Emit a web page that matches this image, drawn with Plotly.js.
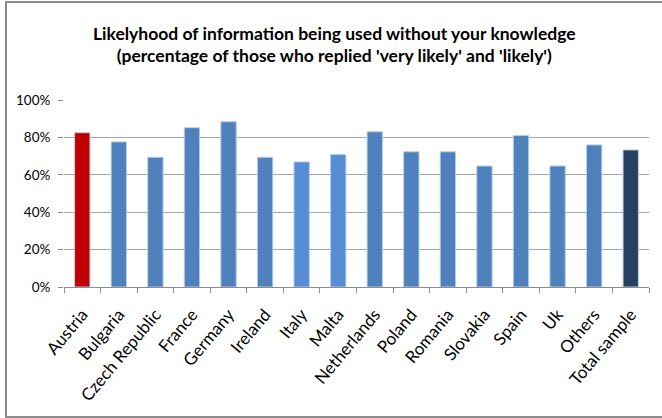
<!DOCTYPE html>
<html>
<head>
<meta charset="utf-8">
<script src="https://cdn.plot.ly/plotly-3.0.1.min.js"></script>
<style>
html,body{margin:0;padding:0;background:#fff;}
#wrap{position:relative;width:662px;height:418px;}
#chart{width:662px;height:418px;}
#frame{position:absolute;left:5px;top:1px;width:670px;height:413px;border:2px solid #8c8c8c;border-right:none;pointer-events:none;}
</style>
</head>
<body>
<div id="wrap"><div id="chart"></div><div id="frame"></div></div>
<script>
const categories = ["Austria","Bulgaria","Czech Republic","France","Germany","Ireland","Italy","Malta","Netherlands","Poland","Romania","Slovakia","Spain","Uk","Others","Total sample"];
const values = [0.825, 0.776, 0.694, 0.852, 0.884, 0.694, 0.669, 0.708, 0.830, 0.723, 0.723, 0.647, 0.810, 0.647, 0.760, 0.733];
const barColors = ["#C00000","#4F81BD","#4F81BD","#4F81BD","#4F81BD","#4F81BD","#558ED5","#558ED5","#4F81BD","#4F81BD","#4F81BD","#4F81BD","#4F81BD","#4F81BD","#4F81BD","#254061"];
const yTickVals = [0,0.2,0.4,0.6,0.8,1.0];
const yTickText = ["0%","20%","40%","60%","80%","100%"];
const titleText = "Likelyhood of information being used without your knowledge<br>(percentage of those who replied 'very likely' and 'likely')";

const font = "Lato, 'Liberation Sans', sans-serif";

Plotly.newPlot('chart', [{
  type: 'bar',
  x: categories,
  y: values,
  marker: {color: barColors, line: {color: '#B9CDE5', width: 1}},
  width: 0.42,
  hoverinfo: 'none'
}], {
  width: 662, height: 418,
  margin: {l: 64, r: 13, t: 100, b: 131},
  paper_bgcolor: '#fff', plot_bgcolor: '#fff',
  title: {text: titleText, font: {family: font, size: 17.5, color: '#000', weight: 'bold'}, x: 0.505, xanchor: 'center', y: 0.905, yanchor: 'top'},
  showlegend: false,
  xaxis: {
    type: 'category',
    tickangle: -50,
    tickfont: {family: font, size: 17, color: '#000'},
    ticks: 'outside', tickson: 'boundaries', ticklen: 5, tickcolor: '#8c8c8c',
    ticklabelstandoff: 10,
    showline: true, linecolor: '#8c8c8c', linewidth: 1,
    showgrid: false, fixedrange: true
  },
  yaxis: {
    range: [0, 1],
    tickvals: yTickVals, ticktext: yTickText,
    tickfont: {family: font, size: 13.5, color: '#000'},
    ticks: 'outside', ticklen: 5, tickcolor: '#8c8c8c',
    ticklabelstandoff: 5,
    showgrid: true, gridcolor: '#a6a6a6', gridwidth: 1,
    showline: false, zeroline: false, fixedrange: true
  }
}, {displayModeBar: false, staticPlot: true});
</script>
</body>
</html>
